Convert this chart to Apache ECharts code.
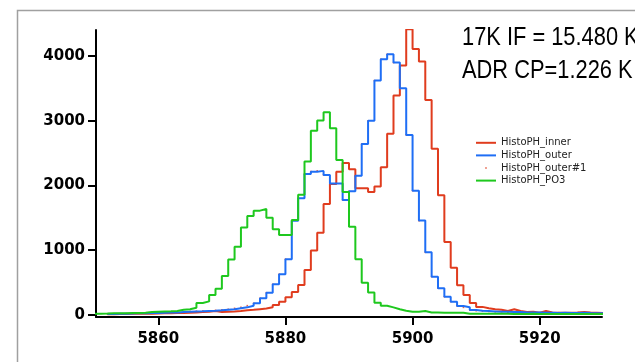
<!DOCTYPE html>
<html><head><meta charset="utf-8">
<script src="https://cdn.jsdelivr.net/npm/echarts@6/dist/echarts.min.js"></script>
<style>html,body{margin:0;padding:0;background:#fff}#c{width:635px;height:362px}</style>
</head><body><div id="c"></div>
<script>
// Bin left edges (each bin is 1 unit wide)
const binEdges = [
  5850,5851,5852,5853,5854,5855,5856,5857,5858,5859,
  5860,5861,5862,5863,5864,5865,5866,5867,5868,5869,
  5870,5871,5872,5873,5874,5875,5876,5877,5878,5879,
  5880,5881,5882,5883,5884,5885,5886,5887,5888,5889,
  5890,5891,5892,5893,5894,5895,5896,5897,5898,5899,
  5900,5901,5902,5903,5904,5905,5906,5907,5908,5909,
  5910,5911,5912,5913,5914,5915,5916,5917,5918,5919,
  5920,5921,5922,5923,5924,5925,5926,5927,5928,5929
];
const lastBinEnd = 5930;

const innerCounts = [
  null,null,12,15,15,18,18,20,20,22,
  25,28,30,32,35,40,45,50,60,45,
  50,55,62,75,80,90,100,118,154,206,
  273,355,463,695,995,1271,1714,2023,2213,2345,
  2252,1957,1955,1900,1982,2281,2800,3387,3851,4410,
  4108,3912,3320,2565,1850,1125,728,458,309,185,
  125,103,88,80,62,88,62,45,50,36,
  62,40,36,36,36,40,45,40,36,30
];
const outerCounts = [
  null,null,15,20,20,22,25,28,30,30,
  35,38,40,45,50,55,58,62,65,72,
  80,88,103,118,144,180,258,344,474,630,
  862,1455,1802,2178,2213,2225,2162,2030,2030,1776,
  1910,2150,2641,3000,3619,3949,4026,3897,3501,2780,
  1920,1457,968,592,412,283,206,139,118,77,
  65,60,55,50,50,45,45,40,40,38,
  36,36,32,36,30,30,36,30,28,28
];
const po3Counts = [
  20,22,25,28,28,30,32,35,45,50,
  55,58,62,80,90,113,185,210,309,405,
  602,855,1055,1349,1529,1611,1637,1503,1323,1236,
  1236,1467,1858,2368,2846,3001,3130,2883,2394,1900,
  1364,860,499,347,190,144,118,88,67,51,
  51,62,40,38,36,36,36,36,20,20,
  20,20,18,18,18,15,15,15,20,15,
  15,15,15,15,15,15,15,15,15,15
];

const xTicks = [5860, 5880, 5900, 5920];
const yTicks = [0, 1000, 2000, 3000, 4000];
const seriesNames = ['HistoPH_inner', 'HistoPH_outer', 'HistoPH_outer#1', 'HistoPH_PO3'];
const annotationLines = ['17K IF = 15.480 K', 'ADR CP=1.226 K'];

const RED = '#e03c1e', BLUE = '#1f6ef5', GREEN = '#1ec81e';

function stepData(vals) {
  const d = binEdges.map((x, i) => [x, vals[i]]);
  d.push([lastBinEnd, vals[vals.length - 1]]);
  return d;
}
const dotData = binEdges.map((x, i) => [x, outerCounts[i]]).filter(p => p[1] != null);

const chart = echarts.init(document.getElementById('c'), null, { renderer: 'canvas' });
const tickFont = { fontFamily: 'DejaVu Sans', fontWeight: 'bold', fontSize: 15, color: '#000' };
const plain = v => String(v);
const LINE_ICON = 'path://M0,0M20,8M0,3h20v2h-20z';
const DOT_ICON = 'path://M0,0M20,8M9.2,3.2h1.6v1.6h-1.6z';
const annoFont = '26px "Liberation Sans", Arial, sans-serif';

chart.setOption({
  animation: false,
  backgroundColor: '#fff',
  grid: { left: 96, right: 33, top: 30, bottom: 45 },
  xAxis: {
    type: 'value', min: 5850.2, max: 5929.8,
    axisLine: { onZero: false, lineStyle: { color: '#000', width: 2 } },
    axisTick: { customValues: xTicks, length: 8, lineStyle: { color: '#000', width: 2 } },
    axisLabel: Object.assign({ customValues: xTicks, margin: 15, formatter: plain }, tickFont),
    splitLine: { show: false }
  },
  yAxis: {
    type: 'value', min: -31, max: 4400,
    axisLine: { show: true, lineStyle: { color: '#000', width: 2 } },
    axisTick: { show: true, customValues: yTicks, length: 8, lineStyle: { color: '#000', width: 2 } },
    axisLabel: Object.assign({ customValues: yTicks, margin: 11, formatter: plain }, tickFont),
    splitLine: { show: false }
  },
  legend: {
    orient: 'vertical', left: 476, top: 136.5, padding: 0,
    itemWidth: 20, itemHeight: 8, itemGap: 0,
    textStyle: { fontFamily: 'DejaVu Sans', fontSize: 10, color: '#222', lineHeight: 12.6 },
    data: [
      { name: seriesNames[0], icon: LINE_ICON, itemStyle: { color: RED } },
      { name: seriesNames[1], icon: LINE_ICON, itemStyle: { color: BLUE } },
      { name: seriesNames[2], icon: DOT_ICON, itemStyle: { color: RED } },
      { name: seriesNames[3], icon: LINE_ICON, itemStyle: { color: GREEN } }
    ]
  },
  graphic: [
    { type: 'rect', silent: true, z: -1, shape: { x: 17.5, y: 10.5, width: 700, height: 400 },
      style: { fill: 'none', stroke: '#a0a0a0', lineWidth: 1.5 } },
    { type: 'text', x: 462, y: 25, scaleX: 0.84, style: { text: annotationLines[0], font: annoFont, fill: '#000' } },
    { type: 'text', x: 462, y: 58, scaleX: 0.84, style: { text: annotationLines[1], font: annoFont, fill: '#000' } }
  ],
  series: [
    { name: seriesNames[0], type: 'line', step: 'end', data: stepData(innerCounts), showSymbol: false, symbol: 'none',
      lineStyle: { color: RED, width: 2 }, itemStyle: { color: RED } },
    { name: seriesNames[1], type: 'line', step: 'end', data: stepData(outerCounts), showSymbol: false, symbol: 'none',
      lineStyle: { color: BLUE, width: 2 }, itemStyle: { color: BLUE } },
    { name: seriesNames[2], type: 'scatter', data: dotData, symbol: 'rect', symbolSize: 1.6,
      itemStyle: { color: RED } },
    { name: seriesNames[3], type: 'line', step: 'end', data: stepData(po3Counts), showSymbol: false, symbol: 'none',
      lineStyle: { color: GREEN, width: 2 }, itemStyle: { color: GREEN } }
  ]
});
</script></body></html>
